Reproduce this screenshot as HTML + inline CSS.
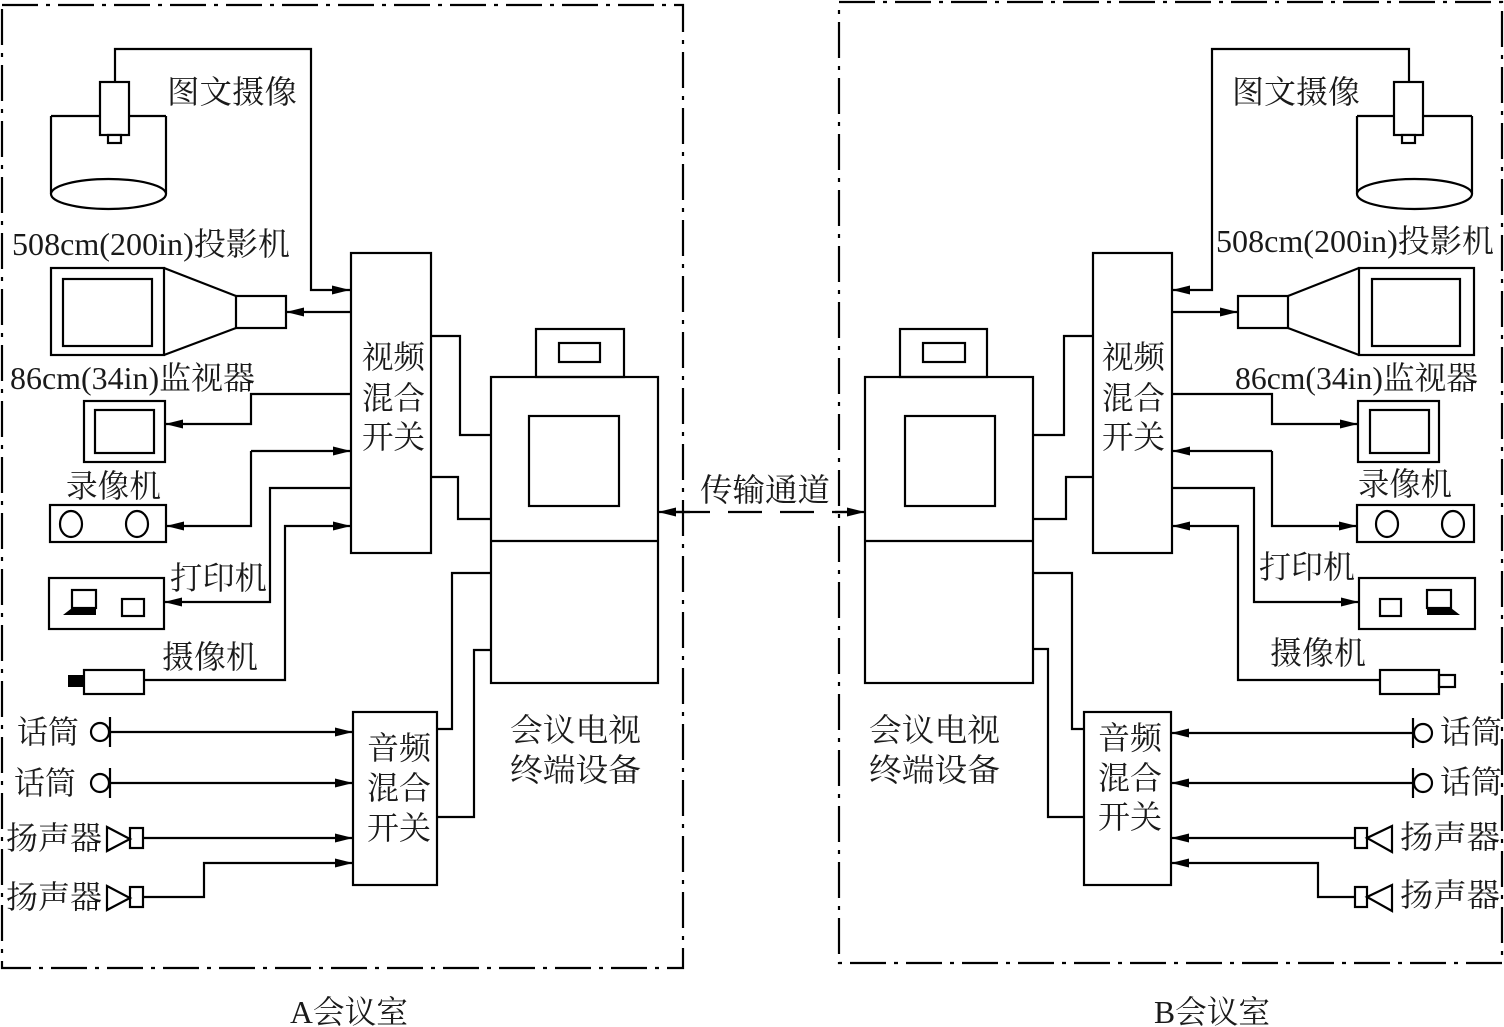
<!DOCTYPE html>
<html><head><meta charset="utf-8"><style>
html,body{margin:0;padding:0;background:#fff;}
svg{display:block;}
text{font-family:"Liberation Serif","Noto Serif CJK SC","Noto Sans CJK SC",serif;fill:#1a1a1a;dominant-baseline:central;}
</style></head><body>
<svg width="1504" height="1027" viewBox="0 0 1504 1027" xmlns="http://www.w3.org/2000/svg">
<defs>
<marker id="ar" markerUnits="userSpaceOnUse" markerWidth="20" markerHeight="12" refX="18" refY="4.5" orient="auto">
<path d="M0,0 L18,4.5 L0,9 z" fill="#000"/></marker>
</defs>
<g fill="none" stroke="#000" stroke-width="2.2">
<rect x="2" y="5" width="681" height="963" stroke-dasharray="36,8,4,8"/>
<rect x="839" y="2" width="663" height="961" stroke-dasharray="36,8,4,8"/>

<path d="M51,116 V194 M166,116 V194 M51,116 H166"/>
<ellipse cx="108.5" cy="194" rx="57.5" ry="15" fill="#fff"/>
<rect x="100" y="82" width="29" height="53" fill="#fff"/>
<rect x="108" y="135" width="13" height="8" fill="#fff"/>
<path d="M115,82 V49 H311 V290 H350" marker-end="url(#ar)"/>
<rect x="51" y="268" width="113" height="87"/>
<rect x="63" y="279" width="89" height="67"/>
<path d="M164,268 L236,296 M164,355 L236,328"/>
<rect x="236" y="296" width="50" height="32"/>
<path d="M350,312 H286" marker-end="url(#ar)"/>
<rect x="351" y="253" width="80" height="300"/>
<rect x="84" y="401" width="81" height="61"/>
<rect x="95" y="410" width="59" height="43"/>
<path d="M351,394 H251 V424 H165" marker-end="url(#ar)"/>
<rect x="50" y="505" width="116" height="37"/>
<ellipse cx="71" cy="524" rx="11" ry="13"/><ellipse cx="137" cy="524" rx="11" ry="13"/>
<path d="M251,451 H351" marker-end="url(#ar)"/>
<path d="M251,451 V526 H166" marker-end="url(#ar)"/>
<rect x="49" y="578" width="115" height="51"/>
<rect x="72" y="590" width="24" height="18"/>
<rect x="122" y="599" width="22" height="17"/>
<path d="M351,488 H270 V602 H164" marker-end="url(#ar)"/>
<rect x="84" y="670" width="60" height="24"/>
<path d="M144,680 H285 V526 H351" marker-end="url(#ar)"/>
<rect x="536" y="329" width="88" height="48"/>
<rect x="559" y="343" width="41" height="19"/>
<rect x="491" y="377" width="167" height="306"/>
<path d="M491,541 H658"/>
<rect x="529" y="416" width="90" height="90"/>
<path d="M431,336 H460 V435 H491 M431,477 H458 V519 H491"/>
<rect x="353" y="712" width="84" height="173"/>
<path d="M437,729 H452 V573 H491 M437,817 H474 V650 H491"/>
<circle cx="100" cy="732" r="9"/><path d="M110,717 V747"/>
<path d="M110,732 H353" marker-end="url(#ar)"/>
<circle cx="100" cy="783" r="9"/><path d="M110,768 V798"/>
<path d="M110,783 H353" marker-end="url(#ar)"/>
<path d="M107,827 V851 L130,839 Z"/><rect x="130" y="828" width="13" height="20"/>
<path d="M143,838 H353" marker-end="url(#ar)"/>
<path d="M107,886 V910 L130,898 Z"/><rect x="130" y="887" width="13" height="20"/>
<path d="M143,897 H204 V863 H353" marker-end="url(#ar)"/>

<path d="M676,512 H848" stroke-dasharray="34,18"/>
<path d="M690,512 H658" marker-end="url(#ar)"/>
<path d="M835,512 H865" marker-end="url(#ar)"/>

<path d="M1357,116 V194 M1472,116 V194 M1357,116 H1472"/>
<ellipse cx="1414.5" cy="194" rx="57.5" ry="15" fill="#fff"/>
<rect x="1394" y="82" width="29" height="53" fill="#fff"/>
<rect x="1402" y="135" width="13" height="8" fill="#fff"/>
<path d="M1409,82 V49 H1212 V290 H1172" marker-end="url(#ar)"/>
<rect x="1359" y="268" width="115" height="87"/>
<rect x="1372" y="279" width="88" height="67"/>
<path d="M1359,268 L1288,296 M1359,355 L1288,328"/>
<rect x="1238" y="296" width="50" height="32"/>
<path d="M1172,312 H1238" marker-end="url(#ar)"/>
<rect x="1093" y="253" width="79" height="300"/>
<rect x="1358" y="401" width="81" height="61"/>
<rect x="1370" y="410" width="59" height="43"/>
<path d="M1172,394 H1272 V424 H1358" marker-end="url(#ar)"/>
<rect x="1357" y="505" width="117" height="37"/>
<ellipse cx="1387" cy="524" rx="11" ry="13"/><ellipse cx="1453" cy="524" rx="11" ry="13"/>
<path d="M1272,451 H1172" marker-end="url(#ar)"/>
<path d="M1272,451 V526 H1357" marker-end="url(#ar)"/>
<rect x="1359" y="578" width="116" height="51"/>
<rect x="1380" y="599" width="21" height="17"/>
<rect x="1427" y="590" width="24" height="18"/>
<path d="M1172,488 H1254 V602 H1359" marker-end="url(#ar)"/>
<rect x="1380" y="670" width="59" height="24"/>
<rect x="1439" y="675" width="16" height="12"/>
<path d="M1380,680 H1238 V526 H1172" marker-end="url(#ar)"/>
<rect x="900" y="329" width="87" height="48"/>
<rect x="923" y="343" width="42" height="19"/>
<rect x="865" y="377" width="168" height="306"/>
<path d="M865,541 H1033"/>
<rect x="905" y="416" width="90" height="90"/>
<path d="M1033,435 H1064 V336 H1093 M1033,519 H1066 V477 H1093"/>
<rect x="1084" y="712" width="87" height="173"/>
<path d="M1033,573 H1072 V729 H1084 M1033,649 H1048 V817 H1084"/>
<circle cx="1423" cy="733" r="9"/><path d="M1413,718 V748"/>
<path d="M1413,733 H1171" marker-end="url(#ar)"/>
<circle cx="1423" cy="783" r="9"/><path d="M1413,768 V798"/>
<path d="M1413,783 H1171" marker-end="url(#ar)"/>
<rect x="1355" y="828" width="12" height="20"/><path d="M1392,826 V852 L1367,838 Z"/>
<path d="M1355,838 H1171" marker-end="url(#ar)"/>
<rect x="1355" y="887" width="12" height="20"/><path d="M1392,885 V911 L1367,897 Z"/>
<path d="M1355,897 H1318 V863 H1171" marker-end="url(#ar)"/>
</g>
<rect x="68" y="675" width="16" height="12" fill="#000"/>
<polygon points="72,608 96,608 96,615 63,615" fill="#000"/>
<polygon points="1427,608 1451,608 1460,615 1427,615" fill="#000"/>

<g font-size="32">
<text x="167" y="92" textLength="130" lengthAdjust="spacingAndGlyphs">图文摄像</text>
<text x="12" y="244" textLength="278" lengthAdjust="spacingAndGlyphs">508cm(200in)投影机</text>
<text x="10" y="378" textLength="245" lengthAdjust="spacingAndGlyphs">86cm(34in)监视器</text>
<text x="66" y="486" textLength="95" lengthAdjust="spacingAndGlyphs">录像机</text>
<text x="170" y="578" textLength="97" lengthAdjust="spacingAndGlyphs">打印机</text>
<text x="162" y="657" textLength="96" lengthAdjust="spacingAndGlyphs">摄像机</text>
<text x="17" y="732" textLength="62" lengthAdjust="spacingAndGlyphs">话筒</text>
<text x="14" y="783" textLength="62" lengthAdjust="spacingAndGlyphs">话筒</text>
<text x="6" y="838" textLength="96" lengthAdjust="spacingAndGlyphs">扬声器</text>
<text x="6" y="897" textLength="96" lengthAdjust="spacingAndGlyphs">扬声器</text>
<text x="362" y="357" textLength="63" lengthAdjust="spacingAndGlyphs">视频</text>
<text x="362" y="398" textLength="63" lengthAdjust="spacingAndGlyphs">混合</text>
<text x="362" y="437" textLength="63" lengthAdjust="spacingAndGlyphs">开关</text>
<text x="367" y="748" textLength="64" lengthAdjust="spacingAndGlyphs">音频</text>
<text x="367" y="788" textLength="64" lengthAdjust="spacingAndGlyphs">混合</text>
<text x="367" y="828" textLength="64" lengthAdjust="spacingAndGlyphs">开关</text>
<text x="510" y="730" textLength="131" lengthAdjust="spacingAndGlyphs">会议电视</text>
<text x="510" y="770" textLength="131" lengthAdjust="spacingAndGlyphs">终端设备</text>
<text x="700" y="490" textLength="130" lengthAdjust="spacingAndGlyphs">传输通道</text>
<text x="290" y="1012" textLength="118" lengthAdjust="spacingAndGlyphs">A会议室</text>
<text x="1232" y="92" textLength="128" lengthAdjust="spacingAndGlyphs">图文摄像</text>
<text x="1216" y="241" textLength="278" lengthAdjust="spacingAndGlyphs">508cm(200in)投影机</text>
<text x="1235" y="378" textLength="243" lengthAdjust="spacingAndGlyphs">86cm(34in)监视器</text>
<text x="1358" y="484" textLength="94" lengthAdjust="spacingAndGlyphs">录像机</text>
<text x="1259" y="567" textLength="96" lengthAdjust="spacingAndGlyphs">打印机</text>
<text x="1270" y="653" textLength="96" lengthAdjust="spacingAndGlyphs">摄像机</text>
<text x="1440" y="732" textLength="62" lengthAdjust="spacingAndGlyphs">话筒</text>
<text x="1440" y="782" textLength="62" lengthAdjust="spacingAndGlyphs">话筒</text>
<text x="1400" y="837" textLength="100" lengthAdjust="spacingAndGlyphs">扬声器</text>
<text x="1400" y="895" textLength="100" lengthAdjust="spacingAndGlyphs">扬声器</text>
<text x="1102" y="357" textLength="63" lengthAdjust="spacingAndGlyphs">视频</text>
<text x="1102" y="398" textLength="63" lengthAdjust="spacingAndGlyphs">混合</text>
<text x="1102" y="437" textLength="63" lengthAdjust="spacingAndGlyphs">开关</text>
<text x="1098" y="738" textLength="64" lengthAdjust="spacingAndGlyphs">音频</text>
<text x="1098" y="778" textLength="64" lengthAdjust="spacingAndGlyphs">混合</text>
<text x="1098" y="817" textLength="64" lengthAdjust="spacingAndGlyphs">开关</text>
<text x="869" y="730" textLength="131" lengthAdjust="spacingAndGlyphs">会议电视</text>
<text x="869" y="770" textLength="131" lengthAdjust="spacingAndGlyphs">终端设备</text>
<text x="1154" y="1012" textLength="116" lengthAdjust="spacingAndGlyphs">B会议室</text>
</g>
</svg>
</body></html>
